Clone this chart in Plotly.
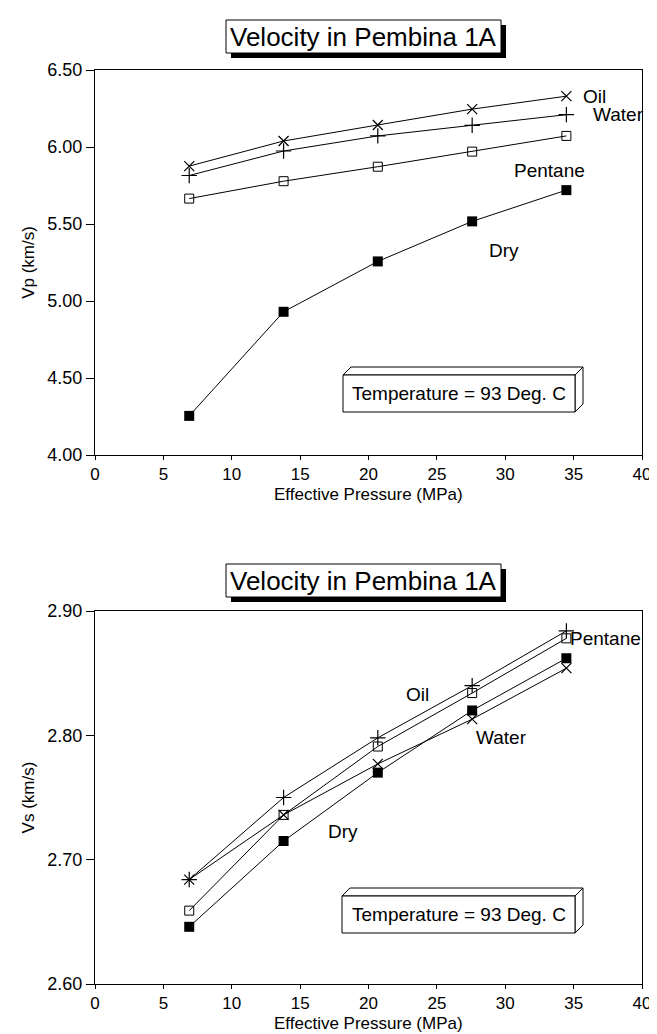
import plotly.graph_objects as go

# ---------------- data ----------------
pressure = [6.89, 13.79, 20.68, 27.58, 34.47]

vp_oil = [5.876, 6.039, 6.143, 6.246, 6.33]
vp_water = [5.815, 5.974, 6.072, 6.141, 6.21]
vp_pentane = [5.665, 5.778, 5.872, 5.970, 6.072]
vp_dry = [4.254, 4.93, 5.257, 5.517, 5.720]

vs_plus = [2.684, 2.750, 2.798, 2.840, 2.884]
vs_pentane = [2.659, 2.736, 2.791, 2.834, 2.878]
vs_dry = [2.646, 2.715, 2.770, 2.820, 2.862]
vs_cross = [2.684, 2.736, 2.777, 2.813, 2.854]

x_ticks = [0, 5, 10, 15, 20, 25, 30, 35, 40]
vp_ticks = [4.0, 4.5, 5.0, 5.5, 6.0, 6.5]
vs_ticks = [2.6, 2.7, 2.8, 2.9]

title_text = "Velocity in Pembina 1A"
temp_text = "Temperature = 93 Deg. C"
x_title = "Effective Pressure (MPa)"

top_label_text = ["Oil", "Water", "Pentane", "Dry"]
top_label_x = [36.55, 38.3, 33.2, 29.9]
top_label_y = [6.33, 6.21, 5.85, 5.33]

bot_label_text = ["Pentane", "Oil", "Water", "Dry"]
bot_label_x = [37.3, 23.6, 29.7, 18.1]
bot_label_y = [2.878, 2.833, 2.798, 2.7225]

# ---------------- layout geometry (pixels) ----------------
W, H = 657, 1034
ML, MR, MT, MB = 87, 23, 62, 58
PW = W - ML - MR
PH = H - MT - MB


def px(x):
    return (x - ML) / PW


def py(y):
    return (H - MB - y) / PH


TOP_BOTTOM = 447
BOT_TOP = 603
BOT_BOTTOM = H - MB
top_dom = [py(TOP_BOTTOM), 1.0]
bot_dom = [0.0, py(BOT_TOP)]

FONT = "Liberation Sans, Arial, sans-serif"

fig = go.Figure()

line = dict(color="black", width=1)
xmark = dict(symbol="x-thin-open", size=10, color="black", line=dict(color="black", width=1.2))
pmark = dict(symbol="cross-thin-open", size=11, color="black", line=dict(color="black", width=1.2))
smark = dict(symbol="square-open", size=9, color="black", line=dict(color="black", width=1))
fmark = dict(symbol="square", size=10, color="black")

# top panel
fig.add_trace(go.Scatter(x=pressure, y=vp_oil, mode="lines+markers", name="Oil",
                         line=line, marker=xmark, xaxis="x", yaxis="y"))
fig.add_trace(go.Scatter(x=pressure, y=vp_water, mode="lines+markers", name="Water",
                         line=line, marker=pmark, xaxis="x", yaxis="y"))
fig.add_trace(go.Scatter(x=pressure, y=vp_pentane, mode="lines+markers", name="Pentane",
                         line=line, marker=smark, xaxis="x", yaxis="y"))
fig.add_trace(go.Scatter(x=pressure, y=vp_dry, mode="lines+markers", name="Dry",
                         line=line, marker=fmark, xaxis="x", yaxis="y"))

# bottom panel
fig.add_trace(go.Scatter(x=pressure, y=vs_plus, mode="lines+markers", name="Oil",
                         line=line, marker=pmark, xaxis="x2", yaxis="y2"))
fig.add_trace(go.Scatter(x=pressure, y=vs_pentane, mode="lines+markers", name="Pentane",
                         line=line, marker=smark, xaxis="x2", yaxis="y2"))
fig.add_trace(go.Scatter(x=pressure, y=vs_dry, mode="lines+markers", name="Dry",
                         line=line, marker=fmark, xaxis="x2", yaxis="y2"))
fig.add_trace(go.Scatter(x=pressure, y=vs_cross, mode="lines+markers", name="Water",
                         line=line, marker=xmark, xaxis="x2", yaxis="y2"))

x_common = dict(showgrid=False, zeroline=False, showline=True, linecolor="black", linewidth=1,
                mirror=True, ticks="outside", ticklen=4, tickcolor="black", tickwidth=1,
                tickfont=dict(family=FONT, size=17, color="black"), range=[0, 40],
                tickvals=x_ticks, automargin=False)
y_common = dict(showgrid=False, zeroline=False, showline=True, linecolor="black", linewidth=1,
                mirror=True, ticks="outside", ticklen=8, tickcolor="black", tickwidth=1,
                tickfont=dict(family=FONT, size=18, color="black"), tickformat=".2f",
                ticklabelstandoff=0, automargin=False)

fig.update_layout(
    width=W, height=H,
    margin=dict(l=ML, r=MR, t=MT, b=MB),
    paper_bgcolor="white", plot_bgcolor="white",
    showlegend=False,
    font=dict(family=FONT, color="black"),
    xaxis=dict(x_common, domain=[0, 1], anchor="y"),
    yaxis=dict(y_common, domain=top_dom, anchor="x", range=[4.0, 6.5], tickvals=vp_ticks,
               title=dict(text="Vp (km/s)", font=dict(family=FONT, size=17), standoff=8)),
    xaxis2=dict(x_common, domain=[0, 1], anchor="y2"),
    yaxis2=dict(y_common, domain=bot_dom, anchor="x2", range=[2.6, 2.9], tickvals=vs_ticks,
                title=dict(text="Vs (km/s)", font=dict(family=FONT, size=17), standoff=8)),
)

shapes = []
annotations = []


def title_box(x0, y0, x1, y1):
    s = 5
    shapes.append(dict(type="rect", xref="paper", yref="paper",
                       x0=px(x0 + s), x1=px(x1 + s), y0=py(y1 + s), y1=py(y0 + s),
                       fillcolor="black", line=dict(width=0), layer="above"))
    shapes.append(dict(type="rect", xref="paper", yref="paper",
                       x0=px(x0), x1=px(x1), y0=py(y1), y1=py(y0),
                       fillcolor="white", line=dict(color="black", width=1), layer="above"))
    annotations.append(dict(text=title_text, xref="paper", yref="paper",
                            x=px((x0 + x1) / 2), y=py((y0 + y1) / 2),
                            showarrow=False, xanchor="center", yanchor="middle",
                            font=dict(family=FONT, size=26, color="black")))


def temp_box(x0, y0, x1, y1):
    d = 8
    p = "M {a},{b} L {c},{d} L {e},{f} L {g},{h} Z".format(
        a=px(x0), b=py(y0), c=px(x0 + d), d=py(y0 - d),
        e=px(x1 + d), f=py(y0 - d), g=px(x1), h=py(y0))
    shapes.append(dict(type="path", path=p, xref="paper", yref="paper",
                       fillcolor="white", line=dict(color="black", width=1), layer="above"))
    p = "M {a},{b} L {c},{d} L {e},{f} L {g},{h} Z".format(
        a=px(x1), b=py(y0), c=px(x1 + d), d=py(y0 - d),
        e=px(x1 + d), f=py(y1 - d), g=px(x1), h=py(y1))
    shapes.append(dict(type="path", path=p, xref="paper", yref="paper",
                       fillcolor="white", line=dict(color="black", width=1), layer="above"))
    shapes.append(dict(type="rect", xref="paper", yref="paper",
                       x0=px(x0), x1=px(x1), y0=py(y1), y1=py(y0),
                       fillcolor="white", line=dict(color="black", width=1), layer="above"))
    annotations.append(dict(text=temp_text, xref="paper", yref="paper",
                            x=px((x0 + x1) / 2), y=py((y0 + y1) / 2),
                            showarrow=False, xanchor="center", yanchor="middle",
                            font=dict(family=FONT, size=19, color="black")))


def xaxis_title(top_px):
    annotations.append(dict(text=x_title, xref="paper", yref="paper",
                            x=0.5, y=py(top_px), showarrow=False,
                            xanchor="center", yanchor="top", borderpad=0,
                            font=dict(family=FONT, size=17, color="black")))


title_box(218, 12, 493, 45)
title_box(218, 556, 493, 589)
temp_box(335, 367, 567, 404)
temp_box(334, 888, 567, 925)
xaxis_title(TOP_BOTTOM + 29)
xaxis_title(BOT_BOTTOM + 29)

lab_font = dict(family=FONT, size=19, color="black")
for t, x, y in zip(top_label_text, top_label_x, top_label_y):
    annotations.append(dict(text=t, x=x, y=y, xref="x", yref="y", showarrow=False,
                            xanchor="center", yanchor="middle", font=lab_font))
for t, x, y in zip(bot_label_text, bot_label_x, bot_label_y):
    annotations.append(dict(text=t, x=x, y=y, xref="x2", yref="y2", showarrow=False,
                            xanchor="center", yanchor="middle", font=lab_font))

fig.update_layout(shapes=shapes, annotations=annotations)

fig.write_html("out.html")
